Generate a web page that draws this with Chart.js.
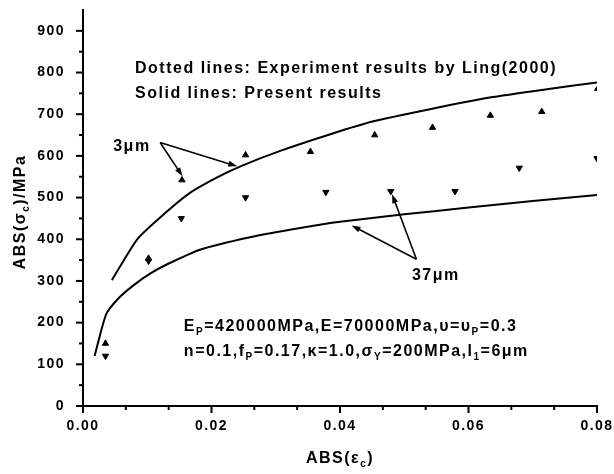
<!DOCTYPE html>
<html lang="en">
  <head>
    <meta charset="UTF-8" />
    <title>ABS(σc) vs ABS(εc)</title>
    <script src="https://cdn.jsdelivr.net/npm/chart.js@4.4.1/dist/chart.umd.min.js"></script>
    <style>
      body { margin: 0; background: #fff; }
    </style>
  </head>
  <body>
    <canvas id="chart" width="614" height="474"></canvas>
    <script>
    // present results (solid lines)
    const eps3Model = [0.0045, 0.0085, 0.0131, 0.0167, 0.0208, 0.0245, 0.0307, 0.0385, 0.0452, 0.054, 0.0633, 0.0722, 0.080];
    const sig3Model = [302, 401, 467, 512, 548, 575, 612, 652, 683, 712, 740, 760, 776];
    const eps37Model = [0.0018, 0.0036, 0.0055, 0.0079, 0.0105, 0.0131, 0.0182, 0.026, 0.0338, 0.040, 0.050, 0.060, 0.070, 0.080];
    const sig37Model = [120, 220, 258, 290, 318, 340, 375, 405, 427, 442, 460, 476, 492, 506];

    // Ling (2000) experiment points
    const eps3Exp = [0.0035, 0.0102, 0.0154, 0.0253, 0.0354, 0.0454, 0.0544, 0.0634, 0.0714, 0.0801];
    const sig3Exp = [150, 354, 542, 602, 610, 650, 668, 697, 706, 761];
    const eps37Exp = [0.0035, 0.0102, 0.0153, 0.0253, 0.0378, 0.0479, 0.0579, 0.0679, 0.080];
    const sig37Exp = [120, 348, 450, 500, 513, 515, 515, 571, 594];

    const xTicks = [0, 0.02, 0.04, 0.06, 0.08];
    const yTicks = [0, 100, 200, 300, 400, 500, 600, 700, 800, 900];

    const FONT = '"Liberation Sans", Arial, sans-serif';
    const pts = (xs, ys) => xs.map((v, i) => ({x: v, y: ys[i]}));

    // text runs: plain strings, subscripts as one-element arrays
    function runsWidth(ctx, runs) {
      let w = 0;
      runs.forEach(r => {
        const sub = Array.isArray(r);
        ctx.font = (sub ? 'bold 10px ' : 'bold 16px ') + FONT;
        w += ctx.measureText(sub ? r[0] : r).width;
      });
      return w;
    }
    function drawRuns(ctx, runs, px, py) {
      let cx = px;
      ctx.textAlign = 'left';
      ctx.textBaseline = 'alphabetic';
      runs.forEach(r => {
        const sub = Array.isArray(r);
        const t = sub ? r[0] : r;
        ctx.font = (sub ? 'bold 10px ' : 'bold 16px ') + FONT;
        ctx.fillText(t, cx, sub ? py + 4 : py);
        cx += ctx.measureText(t).width;
      });
    }
    function arrow(ctx, x0, y0, x1, y1) {
      const a = Math.atan2(y1 - y0, x1 - x0);
      const len = 9, half = 3;
      ctx.beginPath();
      ctx.moveTo(x0, y0);
      ctx.lineTo(x1 - Math.cos(a) * len * 0.8, y1 - Math.sin(a) * len * 0.8);
      ctx.stroke();
      ctx.beginPath();
      ctx.moveTo(x1, y1);
      ctx.lineTo(x1 - Math.cos(a) * len - Math.sin(a) * half, y1 - Math.sin(a) * len + Math.cos(a) * half);
      ctx.lineTo(x1 - Math.cos(a) * len + Math.sin(a) * half, y1 - Math.sin(a) * len - Math.cos(a) * half);
      ctx.closePath();
      ctx.fill();
    }

    // notes and arrows, placed in data units
    const notes = [
      {at: [0.0081, 798], runs: ['Dotted lines: Experiment results by Ling(2000)']},
      {at: [0.0081, 740], runs: ['Solid lines: Present results']},
      {at: [0.0047, 612], runs: ['3μm']},
      {at: [0.0512, 302], runs: ['37μm']},
      {at: [0.0157, 181], runs: ['E', ['P'], '=420000MPa,E=70000MPa,υ=υ', ['P'], '=0.3']},
      {at: [0.0157, 121], runs: ['n=0.1,f', ['P'], '=0.17,κ=1.0,σ', ['Y'], '=200MPa,l', ['1'], '=6μm']}
    ];
    const arrows = [
      [[0.0120, 632], [0.0155, 551]],
      [[0.0120, 632], [0.0240, 575]],
      [[0.0519, 352], [0.0418, 433]],
      [[0.0519, 352], [0.0481, 508]]
    ];

    const decor = {
      id: 'decor',
      beforeUpdate(chart) { chart.ctx.letterSpacing = '1.5px'; },
      beforeDraw(chart) { chart.ctx.letterSpacing = '1.5px'; },
      afterDraw(chart) {
        const {ctx, chartArea, scales: {x, y}} = chart;
        ctx.save();
        ctx.letterSpacing = '1.5px';
        ctx.strokeStyle = '#000';
        ctx.fillStyle = '#000';

        // tick marks, majors plus minor divisions
        ctx.lineWidth = 2;
        for (let i = 0; i <= 12; i++) {
          const px = x.getPixelForValue(i * 0.02 / 3);
          const l = i % 3 === 0 ? 7 : 4;
          ctx.beginPath();
          ctx.moveTo(px, chartArea.bottom);
          ctx.lineTo(px, chartArea.bottom + l);
          ctx.stroke();
        }
        for (let i = 0; i <= 18; i++) {
          const py = y.getPixelForValue(i * 50);
          const l = i % 2 === 0 ? 7 : 4;
          ctx.beginPath();
          ctx.moveTo(chartArea.left, py);
          ctx.lineTo(chartArea.left - l, py);
          ctx.stroke();
        }

        // axis titles
        const xt = ['ABS(ε', ['c'], ')'];
        drawRuns(ctx, xt, 340 - runsWidth(ctx, xt) / 2, 463);
        const yt = ['ABS(σ', ['c'], ')/MPa'];
        ctx.save();
        ctx.translate(25, 212);
        ctx.rotate(-Math.PI / 2);
        drawRuns(ctx, yt, -runsWidth(ctx, yt) / 2, 0);
        ctx.restore();

        notes.forEach(n => {
          drawRuns(ctx, n.runs, x.getPixelForValue(n.at[0]), y.getPixelForValue(n.at[1]));
        });

        ctx.lineWidth = 1.6;
        arrows.forEach(([a, b]) => {
          arrow(ctx, x.getPixelForValue(a[0]), y.getPixelForValue(a[1]),
                x.getPixelForValue(b[0]), y.getPixelForValue(b[1]));
        });
        ctx.restore();
      }
    };

    const ctx = document.getElementById('chart').getContext('2d');
    const myChart = new Chart(ctx, {
      type: 'line',
      data: {
        datasets: [
          {label: '3μm present', data: pts(eps3Model, sig3Model), borderColor: '#000', borderWidth: 2,
           pointRadius: 0, tension: 0.2},
          {label: '37μm present', data: pts(eps37Model, sig37Model), borderColor: '#000', borderWidth: 2,
           pointRadius: 0, tension: 0.2},
          {label: '3μm Ling', data: pts(eps3Exp, sig3Exp), showLine: false, pointStyle: 'triangle',
           pointRadius: 3.6, backgroundColor: '#000', borderColor: '#000', borderWidth: 1},
          {label: '37μm Ling', data: pts(eps37Exp, sig37Exp), showLine: false, pointStyle: 'triangle', rotation: 180,
           pointRadius: 3.6, backgroundColor: '#000', borderColor: '#000', borderWidth: 1}
        ]
      },
      options: {
        responsive: false,
        animation: false,
        devicePixelRatio: 1,
        layout: {padding: {top: 10, right: 17, bottom: 0, left: 0}},
        plugins: {legend: {display: false}, tooltip: {enabled: false}},
        scales: {
          x: {
            type: 'linear', min: 0, max: 0.08,
            afterBuildTicks: s => { s.ticks = xTicks.map(v => ({value: v})); },
            afterFit: s => { s.height = 68; s.paddingLeft = 0; s.paddingRight = 0; },
            grid: {display: false},
            border: {display: true, color: '#000', width: 2},
            ticks: {color: '#000', padding: 4, maxRotation: 0, font: {family: FONT, size: 14, weight: 'bold'},
                    callback: v => v.toFixed(2)}
          },
          y: {
            type: 'linear', min: 0, max: 950,
            afterBuildTicks: s => { s.ticks = yTicks.map(v => ({value: v})); },
            afterFit: s => { s.width = 83; s.paddingTop = 0; s.paddingBottom = 0; },
            grid: {display: false},
            border: {display: true, color: '#000', width: 2},
            ticks: {color: '#000', padding: 10, font: {family: FONT, size: 14, weight: 'bold'}}
          }
        }
      },
      plugins: [decor]
    });
    </script>
  </body>
</html>
